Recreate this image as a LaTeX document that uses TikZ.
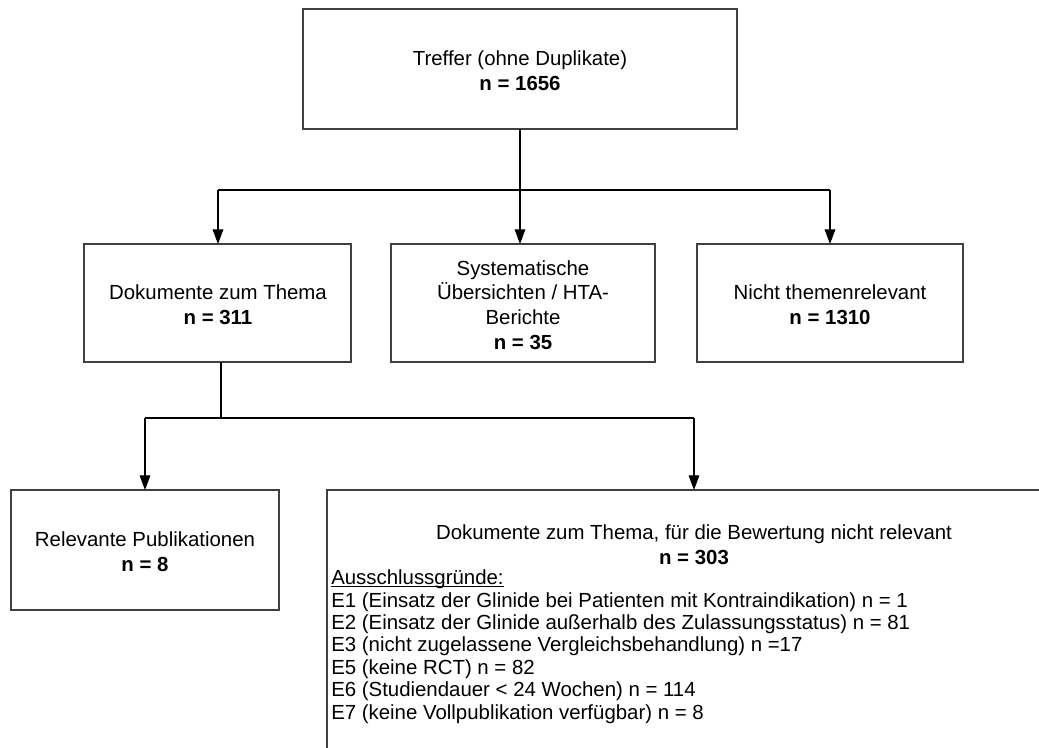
\documentclass[tikz,border=0pt]{standalone}
\usepackage{fontspec}
\setmainfont{Liberation Sans}
\usetikzlibrary{arrows.meta}
\begin{document}
\begin{tikzpicture}[x=0.75pt,y=-0.75pt,
  box/.style={draw=black!75,line width=0.9pt},
  conn/.style={draw=black,line width=0.8pt},
  arr/.style={conn,-{Triangle[length=11pt,width=8pt]}},
  txt/.style={font=\fontsize{15.3}{18.5}\selectfont,align=center,inner sep=0pt},
  lst/.style={font=\fontsize{15.3}{16.8}\selectfont,align=left,inner sep=0pt}]
\useasboundingbox (0,0) rectangle (1039,747);
% boxes
\draw[box] (303,9) rectangle (737,129);
\node[txt] (top) at (520,71) {Treffer (ohne Duplikate)\\\textbf{n = 1656}};
\coordinate (topb) at (520,129);

\draw[box] (84,244) rectangle (351,362);
\node[txt] (b1) at (218,305) {Dokumente zum Thema\\\textbf{n = 311}};
\draw[box] (391,244) rectangle (655,362);
\node[txt] (b2) at (523,305) {Systematische\\Übersichten / HTA-\\Berichte\\\textbf{n = 35}};
\draw[box] (697,244) rectangle (963,362);
\node[txt] (b3) at (830,305) {Nicht themenrelevant\\\textbf{n = 1310}};

\draw[box] (11,490) rectangle (279,610);
\node[txt] (b4) at (145,552) {Relevante Publikationen\\\textbf{n = 8}};

\draw[box] (327,760) -- (327,490) -- (1045,490);
\node[txt] (b5h) at (694,545) {Dokumente zum Thema, für die Bewertung nicht relevant\\\textbf{n = 303}};
\node[lst,anchor=west] (b5l) at (331,654) {\underline{\smash{Ausschlussgründe:}}\\
E1 (Einsatz der Glinide bei Patienten mit Kontraindikation) n = 1\\
E2 (Einsatz der Glinide außerhalb des Zulassungsstatus) n = 81\\
E3 (nicht zugelassene Vergleichsbehandlung) n =17\\
E5 (keine RCT) n = 82\\
E6 (Studiendauer < 24 Wochen) n = 114\\
E7 (keine Vollpublikation verfügbar) n = 8};

% connectors
\coordinate (j1) at (520,190);
\coordinate (l1) at (218,190);
\coordinate (r1) at (830,190);
\coordinate (t1) at (218,244);
\coordinate (t2) at (520,244);
\coordinate (t3) at (830,244);
\draw[conn] (topb) -- (j1);
\draw[conn] (l1) -- (r1);
\draw[arr] (l1) -- (t1);
\draw[arr] (j1) -- (t2);
\draw[arr] (r1) -- (t3);

\coordinate (b1b) at (221,362);
\coordinate (j2) at (221,418);
\coordinate (l2) at (145,418);
\coordinate (r2) at (694,418);
\coordinate (t4) at (145,490);
\coordinate (t5) at (694,490);
\draw[conn] (b1b) -- (j2);
\draw[conn] (l2) -- (r2);
\draw[arr] (l2) -- (t4);
\draw[arr] (r2) -- (t5);
\end{tikzpicture}
\end{document}
